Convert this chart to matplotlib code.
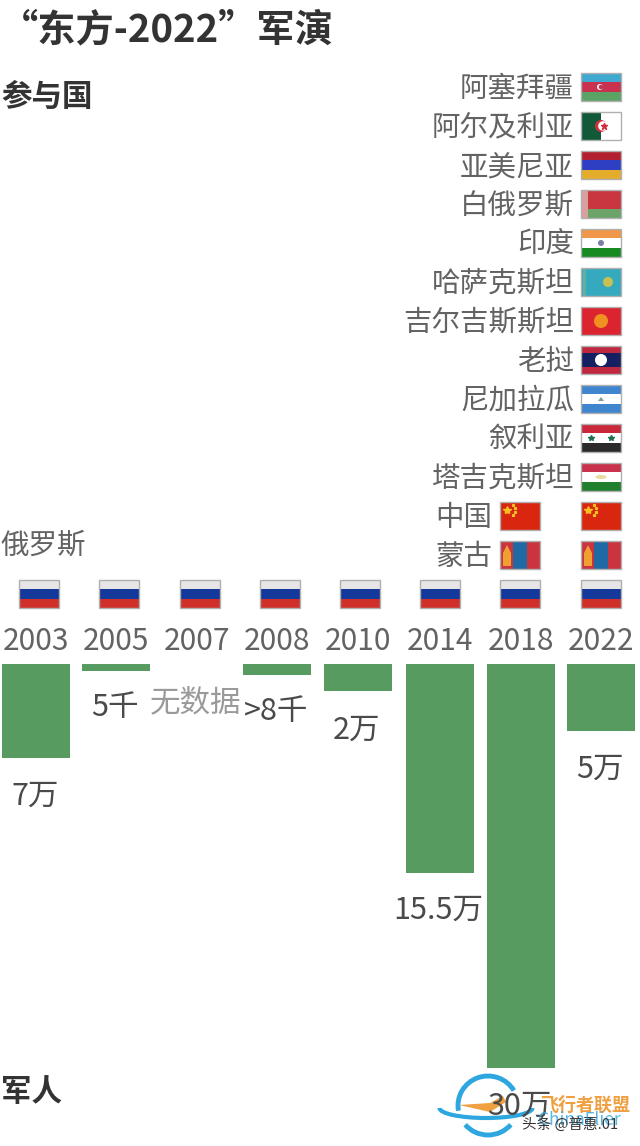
#!/usr/bin/env python3
"""East-2022 exercise: participant flags per year and troop counts."""
import matplotlib
matplotlib.use("Agg")
import matplotlib.pyplot as plt
from matplotlib.patches import Rectangle, Circle, Ellipse, Arc, Polygon

plt.rcParams["font.family"] = ["Noto Sans CJK SC", "DejaVu Sans"]

years = ["2003", "2005", "2007", "2008", "2010", "2014", "2018", "2022"]
troops = [7, 0.5, 0, 0.8, 2, 15.5, 30, 5]  # unit: 10k
troop_labels = ["7万", "5千", "无数据", ">8千", "2万", "15.5万", "30万", "5万"]
countries_2022 = ["阿塞拜疆", "阿尔及利亚", "亚美尼亚", "白俄罗斯", "印度", "哈萨克斯坦",
                  "吉尔吉斯斯坦", "老挝", "尼加拉瓜", "叙利亚", "塔吉克斯坦"]
countries_both = ["中国", "蒙古"]

W, H = 640, 1146
BAR_L = [2, 82, 163, 243, 324, 406, 487, 567]
BAR_W = 67.5
FLAG_X = [19, 99, 180, 260, 340, 420, 500, 581]
LABEL_Y = [796, 708, 703, 712, 730, 910, 1106, 769]
TEXT = "#636363"
DARK = "#4a4a4a"
STRIPES = {
    "阿塞拜疆": ["#3fa9cf", "#c8324f", "#5aa364"],
    "亚美尼亚": ["#b3202f", "#2f3fc4", "#e3ac2b"],
    "白俄罗斯": ["#c9363f", "#c9363f", "#6ba368"],
    "印度": ["#f0974a", "#ffffff", "#188a22"],
    "哈萨克斯坦": ["#35a9bd"],
    "吉尔吉斯斯坦": ["#dc2430"],
    "老挝": ["#c0283f", "#14205f", "#14205f", "#c0283f"],
    "尼加拉瓜": ["#3f86cf", "#ffffff", "#3f86cf"],
    "叙利亚": ["#c8283a", "#ffffff", "#2b2b2b"],
    "塔吉克斯坦": ["#c8324a", "#ffffff", "#1f7f2c"],
    "中国": ["#d9260f"],
    "俄罗斯": ["#e6e6e6", "#15399a", "#d0302a"],
}

fig = plt.figure(figsize=(W / 100, H / 100), dpi=100)

# pixel-space layer for text and flags
ov = fig.add_axes([0, 0, 1, 1])
ov.set_xlim(0, W)
ov.set_ylim(H, 0)
ov.axis("off")

# bars: y axis runs downwards from the common baseline, unit 10k troops
BAR_TOP, PX_PER = 664, 13.47
ax = fig.add_axes([0, 1 - (BAR_TOP + 30 * PX_PER) / H, 1, 30 * PX_PER / H])
ax.set_xlim(0, W)
ax.set_ylim(30, 0)
ax.axis("off")
ax.bar(BAR_L, troops, width=BAR_W, align="edge", color="#589b60")


def flag(x, y, name):
    w, h = 40, 28
    if name == "蒙古":
        ov.add_patch(Rectangle((x, y), w, h, color="#c9343f", lw=0))
        ov.add_patch(Rectangle((x + w / 3, y), w / 3, h, color="#1f6aa5", lw=0))
        ov.add_patch(Rectangle((x + 3, y + 12), 8, 13, color="#f0a030", lw=0))
        ov.add_patch(Polygon([(x + 3, y + 12), (x + 11, y + 12), (x + 7, y + 4)], color="#f0a030", lw=0))
    elif name == "阿尔及利亚":
        ov.add_patch(Rectangle((x, y), w, h, color="#ffffff", lw=0))
        ov.add_patch(Rectangle((x, y), w / 2, h, color="#12593a", lw=0))
        ov.add_patch(Circle((x + 20, y + 14), 6, color="#d22f3c", lw=0))
        ov.add_patch(Circle((x + 22, y + 14), 4.8, color="#ffffff", lw=0))
        ov.plot([x + 23], [y + 14], ls="", marker="*", ms=5, color="#d22f3c")
    else:
        bands = STRIPES[name]
        bh = h / len(bands)
        for i, c in enumerate(bands):
            ov.add_patch(Rectangle((x, y + i * bh), w, bh, color=c, lw=0))
        if name == "阿塞拜疆":
            ov.add_patch(Circle((x + 19, y + 14), 3, color="#ffffff", lw=0))
            ov.add_patch(Circle((x + 20, y + 14), 2.3, color="#c8324f", lw=0))
        elif name == "白俄罗斯":
            ov.add_patch(Rectangle((x, y), 7, h, color="#d9a0a0", lw=0))
        elif name == "印度":
            ov.add_patch(Circle((x + 20, y + 14), 3, color="#7a80a8", lw=0))
        elif name == "哈萨克斯坦":
            ov.add_patch(Circle((x + 27, y + 14), 5, color="#c8c050", lw=0))
            ov.add_patch(Rectangle((x + 2, y), 3, h, color="#5fb0a0", lw=0))
        elif name == "吉尔吉斯斯坦":
            ov.add_patch(Circle((x + 20, y + 14), 7, color="#f09020", lw=0))
        elif name == "老挝":
            ov.add_patch(Circle((x + 20, y + 14), 6, color="#ffffff", lw=0))
        elif name == "尼加拉瓜":
            ov.add_patch(Polygon([(x + 17, y + 16), (x + 23, y + 16), (x + 20, y + 12)], color="#7f9f8f", lw=0))
        elif name == "叙利亚":
            ov.plot([x + 10, x + 30], [y + 14, y + 14], ls="", marker="*", ms=4, color="#1f6f4f")
        elif name == "塔吉克斯坦":
            ov.add_patch(Ellipse((x + 20, y + 14), 11, 4, color="#e8dca0", lw=0))
        elif name == "中国":
            ov.plot([x + 7], [y + 8], ls="", marker="*", ms=6, color="#f6c020")
            ov.plot([x + 13, x + 15, x + 15, x + 13], [y + 3, y + 6, y + 10, y + 13],
                    ls="", marker="*", ms=2, color="#f6c020")
    ov.add_patch(Rectangle((x, y), w, h, fill=False, ec="#b0b0b0", lw=1))


# title and section headings
ov.text(0, 30, "“东方-2022”军演", fontsize=27.5, fontweight="bold", color="#333333", ha="left", va="center")
ov.text(1, 96.5, "参与国", fontsize=22, fontweight="bold", color="#333333", ha="left", va="center")
ov.text(1, 1091.5, "军人", fontsize=22, fontweight="bold", color="#333333", ha="left", va="center")

# joined-in-2022 rows
ROW_Y, ROW_STEP = 73, 39
for i, name in enumerate(countries_2022):
    y = ROW_Y + i * ROW_STEP
    ov.text(574, y + 16, name, fontsize=20.5, color=TEXT, ha="right", va="center")
    flag(FLAG_X[7], y, name)

# joined in 2018 and 2022
for i, name in enumerate(countries_both):
    y = ROW_Y + (len(countries_2022) + i) * ROW_STEP
    ov.text(492, y + 16, name, fontsize=20.5, color=TEXT, ha="right", va="center")
    flag(FLAG_X[6], y, name)
    flag(FLAG_X[7], y, name)

# Russia every year, year labels, troop labels
ov.text(0, 546, "俄罗斯", fontsize=20.5, color=TEXT, ha="left", va="center")
for i, yr in enumerate(years):
    flag(FLAG_X[i], 580, "俄罗斯")
    cx = BAR_L[i] + BAR_W / 2
    ov.text(cx, 641, yr, fontsize=21.5, color=TEXT, ha="center", va="center")
    col = "#9a9a9a" if troop_labels[i] == "无数据" else DARK
    ov.text(cx - 1, LABEL_Y[i], troop_labels[i], fontsize=22, color=col, ha="center", va="center")

# watermark
ov.add_patch(Arc((488, 1105.5), 60, 59, theta1=170, theta2=330, color="#2ea7e0", lw=3.5))
ov.add_patch(Arc((488, 1105.5), 60, 59, theta1=40, theta2=140, color="#2ea7e0", lw=3.5))
ov.add_patch(Arc((486, 1108), 93, 20, theta1=0, theta2=180, color="#2ea7e0", lw=3))
ov.add_patch(Polygon([(459, 1105), (490, 1103), (503, 1096), (506, 1102), (490, 1112)], color="#f0a040", lw=0))
ov.text(540, 1105, "飞行者联盟", fontsize=13, fontweight="bold", color="#f0a040", ha="left", va="center")
ov.text(538, 1120, "ChinaFlier", fontsize=12.5, color="#2ea7e0", ha="left", va="center", alpha=0.8)
ov.text(522, 1124, "头条 @普惠.01", fontsize=10.5, color="#333333", ha="left", va="center")

fig.savefig("out.png", dpi=100, facecolor="white")
